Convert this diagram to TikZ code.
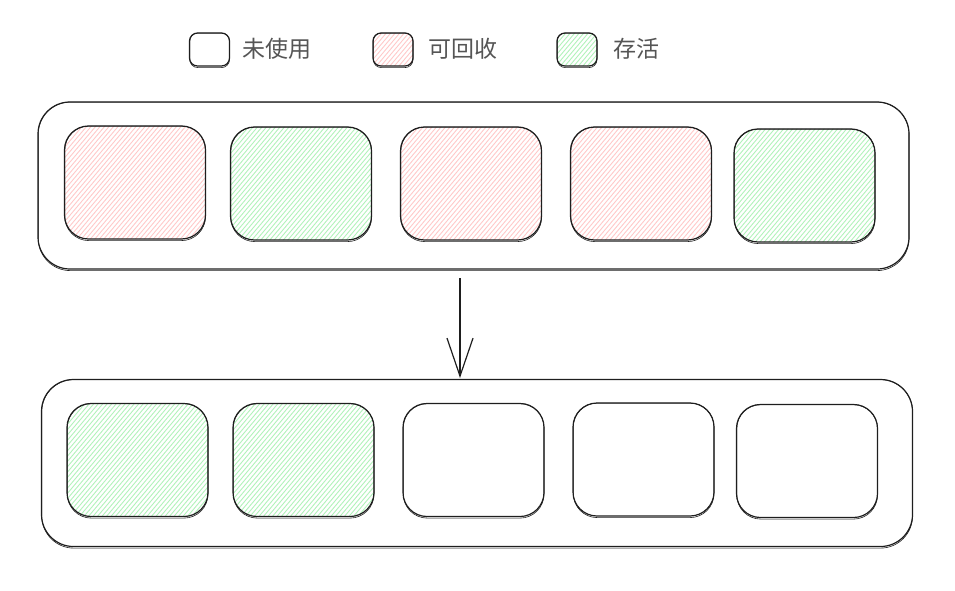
\documentclass[tikz,border=0pt]{standalone}
\usepackage{fontspec}
\setmainfont{Noto Sans CJK SC}
\usetikzlibrary{arrows.meta}
\definecolor{ink}{HTML}{1E1E1E}
\definecolor{txt}{HTML}{555555}
\definecolor{redh}{HTML}{FFC9C9}
\definecolor{greenh}{HTML}{B2F2BB}
\tikzset{
  sk/.style={draw=ink, line width=1.2pt},
  cont/.style={sk, rounded corners=32pt, minimum width=871pt, minimum height=167pt, inner sep=0pt},
  cell/.style={sk, rounded corners=24pt, minimum width=141pt, minimum height=113pt, inner sep=0pt},
  leg/.style={sk, rounded corners=8pt, minimum width=40pt, minimum height=33pt, inner sep=0pt},
  hatch/.style={path picture={
      \foreach \k in {-40,...,40}
        \draw[#1, line width=0.9pt]
          ([xshift=\k*4.5pt, yshift=-4pt]path picture bounding box.south west)
          -- ++(110,-130);
  }},
  lbl/.style={text=txt, font=\fontsize{23}{27}\selectfont, anchor=west, inner sep=0pt},
  arr/.style={draw=ink, line width=1.2pt, -{Straight Barb[length=38pt,width=26pt,line width=1.2pt]}},
}
\begin{document}
\begin{tikzpicture}[x=1pt,y=-1pt]
\useasboundingbox (0,0) rectangle (955,591);
% legend
\node[leg] (l1) at (209.5,49.5) {};
\node[lbl] (t1) at (242,49) {未使用};
\node[leg, hatch=redh] (l2) at (393,49.5) {};
\node[lbl] (t2) at (428,49) {可回收};
\node[leg, hatch=greenh] (l3) at (577,49.5) {};
\node[lbl] (t3) at (613,49) {存活};
% top container
\node[cont] (top) at (473.5,185.5) {};
\node[cell, hatch=redh]   (a1) at (135,182.5) {};
\node[cell, hatch=greenh] (a2) at (301,183.5) {};
\node[cell, hatch=redh]   (a3) at (471,183.5) {};
\node[cell, hatch=redh]   (a4) at (641,183.5) {};
\node[cell, hatch=greenh] (a5) at (804.5,185.5) {};
% bottom container
\node[cont] (bot) at (477,463) {};
\node[cell, hatch=greenh] (b1) at (137.5,460) {};
\node[cell, hatch=greenh] (b2) at (303.5,460) {};
\node[cell] (b3) at (473.5,460) {};
\node[cell] (b4) at (643.5,459.5) {};
\node[cell] (b5) at (807,461) {};
% sketchy second strokes
\foreach \n/\r in {l1/8,l2/8,l3/8,top/32,bot/32,a1/24,a2/24,a3/24,a4/24,a5/24,b1/24,b2/24,b3/24,b4/24,b5/24}{
  \draw[ink, line width=0.6pt, rounded corners=\r pt]
    ([shift={(0.9,0.7)}]\n.north west) rectangle ([shift={(-0.6,1.0)}]\n.south east);
}
% arrow
\coordinate (as) at (460,278);
\coordinate (ae) at (460,378);
\draw[arr] (as) -- (ae);
\end{tikzpicture}
\end{document}
